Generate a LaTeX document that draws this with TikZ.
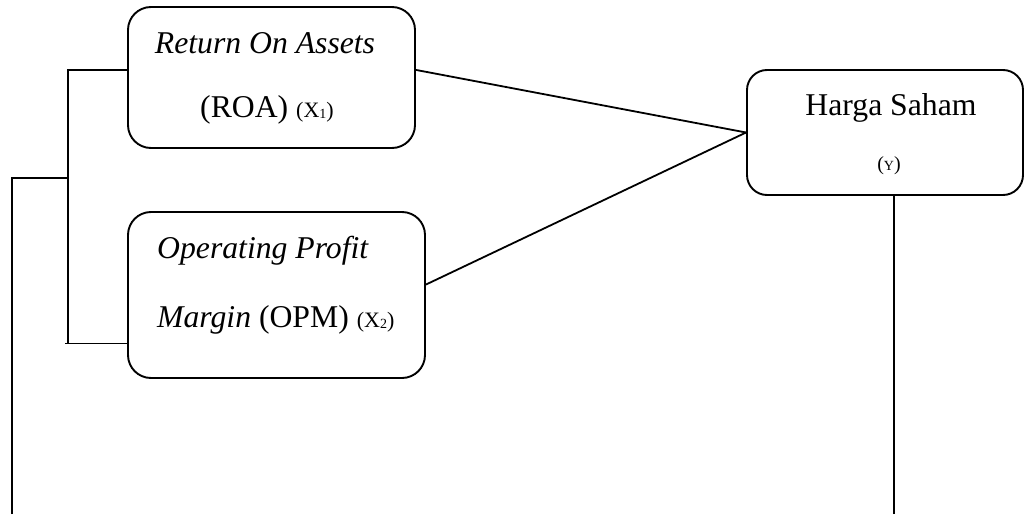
\documentclass[tikz,border=0pt]{standalone}
\usepackage{fontspec}
\setmainfont{Liberation Serif}
\usetikzlibrary{calc}
\tikzset{
  vbox/.style={draw, line width=1.9pt, rounded corners=23pt, inner sep=0pt},
  lbl/.style={inner sep=0pt, anchor=base, font=\fontsize{31.7}{38}\selectfont},
  lbll/.style={lbl, anchor=base west},
  link/.style={line width=1.8pt}
}
\newcommand{\subvar}[2]{{\fontsize{22}{26}\selectfont(#1\raisebox{-0.15ex}{\fontsize{14}{16}\selectfont #2})}}
\begin{document}
\begin{tikzpicture}[x=1pt,y=-1pt]
  \useasboundingbox (0,0) rectangle (1025,514);
  % variable boxes
  \node[vbox, minimum width=287pt, minimum height=141pt] (b1) at (271.5,77.5) {};
  \node[vbox, minimum width=297pt, minimum height=166pt] (b2) at (276.5,295) {};
  \node[vbox, minimum width=276pt, minimum height=125pt, rounded corners=20pt] (b3) at (885,132.5) {};
  % labels
  \node[lbl] (t1a) at (265,53) {\itshape Return On Assets};
  \node[lbl] (t1b) at (267,117) {(ROA) \subvar{X}{1}};
  \node[lbll] (t2a) at (157,258) {\itshape Operating Profit};
  \node[lbll] (t2b) at (157,327) {\textit{Margin} (OPM) \subvar{X}{2}};
  \node[lbl] (t3a) at (891,115) {Harga Saham};
  \node[lbl] (t3b) at (889,170) {{\fontsize{20}{24}\selectfont(}{\fontsize{14}{16}\selectfont Y}{\fontsize{20}{24}\selectfont)}};
  % junction points and open ends
  \coordinate (jx) at (68,0);
  \coordinate (jm) at (68,178);
  \coordinate (ob) at (12,514);
  \coordinate (rb) at (894,514);
  % links to the dependent variable
  \draw[link] (b1.3) -- (b3.west);
  \draw[link] (b2.4) -- (b3.west);
  % bracket joining the two independent variables
  \draw[link] (b1.177) -- (b1.177 -| jx) -- (b2.198 -| jx);
  \draw[link] ($(b2.198 -| jx)+(-3,0)$) -- (b2.198);
  \draw[link] (ob) |- (jm);
  \draw[link] (rb) -- (rb |- b3.south);
\end{tikzpicture}
\end{document}
